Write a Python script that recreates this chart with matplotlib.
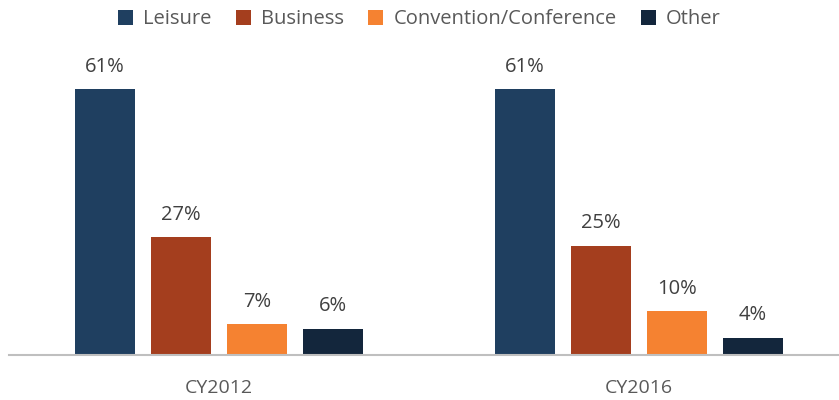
import matplotlib.pyplot as plt
import numpy as np

years = ["CY2012", "CY2016"]
series = ["Leisure", "Business", "Convention/Conference", "Other"]
leisure = [61, 61]
business = [27, 25]
convention = [7, 10]
other = [6, 4]
colors = ["#1F3F60", "#A43E1E", "#F58231", "#13263C"]

plt.rcParams["font.family"] = ["Open Sans", "DejaVu Sans"]

fig = plt.figure(figsize=(8.39, 4), dpi=100)
ax = fig.add_axes([9 / 839, 45 / 400, 830 / 839, 315 / 400])

x = np.arange(len(years))
width = 60 / 420
step = 76 / 420
values = [leisure, business, convention, other]

for i, (name, vals) in enumerate(zip(series, values)):
    pos = x + (i - 1.5) * step
    bars = ax.bar(pos, vals, width, color=colors[i], label=name)
    for b, v in zip(bars, vals):
        ax.annotate(f"{v}%", (b.get_x() + b.get_width() / 2, v),
                    xytext=(0, 9), textcoords="offset points",
                    ha="center", va="bottom", fontsize=14.5, color="#404040")

ax.set_xlim(-0.5, 1.5 - 10 / 420)
ax.set_ylim(0, 61 * 315 / 266)
ax.set_xticks(x)
ax.set_xticklabels(years, fontsize=14, color="#595959")
ax.tick_params(axis="x", length=0, pad=17)
ax.set_yticks([])
for s in ["top", "right", "left"]:
    ax.spines[s].set_visible(False)
ax.spines["bottom"].set_color("#BFBFBF")
ax.spines["bottom"].set_linewidth(1.5)

fig.legend(loc="upper center", bbox_to_anchor=(0.5, 1.022), ncol=4, frameon=False,
           fontsize=14.5, handlelength=0.75, handleheight=0.75, handletextpad=0.5,
           columnspacing=1.2, labelcolor="#595959")

fig.savefig("out.png", dpi=100)
